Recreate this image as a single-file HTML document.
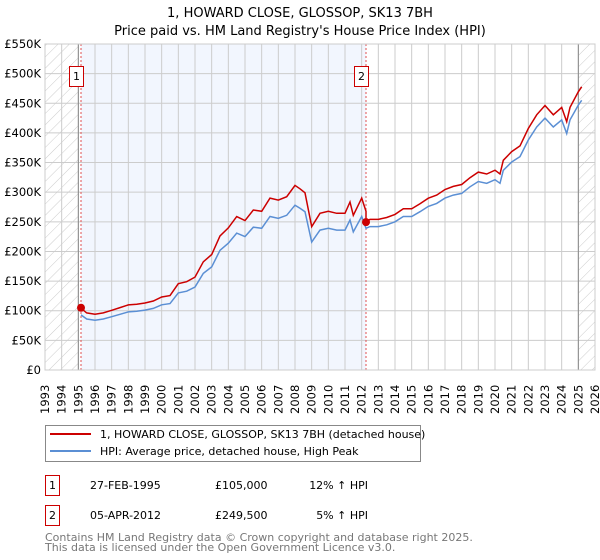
<!DOCTYPE html>
<html><head><meta charset="utf-8"><style>
body{margin:0;background:#fff;font-family:"DejaVu Sans","Liberation Sans",sans-serif;}
svg{display:block}
</style></head><body>
<svg id="chart" width="600" height="560" xmlns="http://www.w3.org/2000/svg" font-family="DejaVu Sans, Liberation Sans, sans-serif">
<defs><pattern id="hatch" width="8" height="8" patternUnits="userSpaceOnUse" patternTransform="rotate(45)"><line x1="0" y1="0" x2="0" y2="8" stroke="#ccc" stroke-width="1"/></pattern></defs>
<text x="300" y="17" text-anchor="middle" font-size="13">1, HOWARD CLOSE, GLOSSOP, SK13 7BH</text>
<text x="300" y="35" text-anchor="middle" font-size="13">Price paid vs. HM Land Registry's House Price Index (HPI)</text>
<g id="plot"></g>
<g id="legend">
<rect x="45.5" y="425.5" width="375" height="36" fill="#fff" stroke="#888"/>
<line x1="50" y1="434" x2="91" y2="434" stroke="#cc0000" stroke-width="2"/>
<text x="100" y="438" font-size="11">1, HOWARD CLOSE, GLOSSOP, SK13 7BH (detached house)</text>
<line x1="50" y1="451" x2="91" y2="451" stroke="#5b8fd4" stroke-width="2"/>
<text x="100" y="455" font-size="11">HPI: Average price, detached house, High Peak</text>
</g>
<g font-size="11">
<rect x="45.5" y="475.5" width="14" height="20" fill="#fff" stroke="#cc0000"/>
<text x="52.5" y="489" text-anchor="middle">1</text>
<text x="90" y="489">27-FEB-1995</text>
<text x="215" y="489">£105,000</text>
<text x="368" y="489" text-anchor="end">12% ↑ HPI</text>
<rect x="45.5" y="505.5" width="14" height="20" fill="#fff" stroke="#cc0000"/>
<text x="52.5" y="519" text-anchor="middle">2</text>
<text x="90" y="519">05-APR-2012</text>
<text x="215" y="519">£249,500</text>
<text x="368" y="519" text-anchor="end">5% ↑ HPI</text>
</g>
<text x="45" y="541" font-size="11" fill="#777">Contains HM Land Registry data © Crown copyright and database right 2025.</text>
<text x="45" y="551" font-size="11" fill="#777">This data is licensed under the Open Government Licence v3.0.</text>
</svg>
<script>
const years=[1993,1994,1995,1996,1997,1998,1999,2000,2001,2002,2003,2004,2005,2006,2007,2008,2009,2010,2011,2012,2013,2014,2015,2016,2017,2018,2019,2020,2021,2022,2023,2024,2025,2026];
const yTicks=[0,50,100,150,200,250,300,350,400,450,500,550];
const hpiDates=[1995.16,1995.5,1996,1996.5,1997,1997.5,1998,1998.5,1999,1999.5,2000,2000.5,2001,2001.5,2002,2002.5,2003,2003.5,2004,2004.5,2005,2005.5,2006,2006.5,2007,2007.5,2008,2008.3,2008.6,2009,2009.5,2010,2010.5,2011,2011.3,2011.5,2012,2012.26,2012.5,2013,2013.5,2014,2014.5,2015,2015.5,2016,2016.5,2017,2017.5,2018,2018.5,2019,2019.5,2020,2020.3,2020.5,2021,2021.5,2022,2022.5,2023,2023.5,2024,2024.3,2024.5,2025,2025.2];
const hpiValues=[93,86,84,86,90,94,98,99,101,104,110,112,130,133,140,163,174,202,214,231,225,241,239,259,256,261,278,273,267,216,236,239,236,236,253,233,259,239,242,242,245,250,259,259,267,276,281,290,295,298,309,318,315,321,315,337,351,360,388,410,425,410,422,399,422,447,455];
const sales=[[1995.16,105],[2012.26,249.5]];
const ratios=[1.12,1.05];
const L=45,R=595,T=44,B=370;
const xs=y=>L+(y-1993)/(2026-1993)*(R-L);
const ys=v=>B-v/550*(B-T);
const NS="http://www.w3.org/2000/svg";
const g=document.getElementById('plot');
function mk(t,a){const e=document.createElementNS(NS,t);for(const k in a)e.setAttribute(k,a[k]);g.appendChild(e);return e;}
let e;
e=mk('rect',{x:xs(sales[0][0]),y:T,width:xs(sales[1][0])-xs(sales[0][0]),height:B-T,fill:'#f2f6fe'});


e=mk('rect',{x:L,y:T,width:xs(1995)-L,height:B-T,fill:'url(#hatch)'});


e=mk('rect',{x:xs(2025),y:T,width:R-xs(2025),height:B-T,fill:'url(#hatch)'});


years.forEach(y=>{
 e=mk('line',{x1:xs(y),x2:xs(y),y1:T,y2:B,stroke:'#ccc'});
 
 
 e=mk('text',{transform:`translate(${xs(y)+4},${B+44}) rotate(-90)`,'font-size':'11.5'});
 e.textContent=y;
 
 
});
yTicks.forEach(v=>{
 e=mk('line',{x1:L,x2:R,y1:ys(v),y2:ys(v),stroke:'#ccc'});
 
 
 e=mk('text',{x:L-4,y:ys(v)+4,'text-anchor':'end','font-size':'11.5'});
 e.textContent=v===0?'£0':'£'+v+'K';
 
 
});
e=mk('line',{x1:xs(1995),x2:xs(1995),y1:T,y2:B,stroke:'#888'});


e=mk('line',{x1:xs(2025),x2:xs(2025),y1:T,y2:B,stroke:'#888'});


sales.forEach((s,i)=>{
 e=mk('line',{x1:xs(s[0]),x2:xs(s[0]),y1:T,y2:B,stroke:'#e05050','stroke-dasharray':'2,2'});
 
 
 e=mk('rect',{x:xs(s[0])-11.5,y:66.5,width:14,height:20,fill:'#fff',stroke:'#cc0000'});
 
 
 e=mk('text',{x:xs(s[0])-4.5,y:80,'text-anchor':'middle','font-size':'11'});
 e.textContent=i+1;
 
 
});
const hp=hpiDates.map((d,i)=>xs(d).toFixed(1)+','+ys(hpiValues[i]).toFixed(1)).join(' ');
e=mk('polyline',{points:hp,fill:'none',stroke:'#5b8fd4','stroke-width':1.5});


const rp=hpiDates.map((d,i)=>{const r=d<sales[1][0]?ratios[0]:ratios[1];return xs(d).toFixed(1)+','+ys(hpiValues[i]*r).toFixed(1);});
const k=hpiDates.findIndex(d=>d>=sales[1][0]);
rp.splice(k,0,xs(sales[1][0]).toFixed(1)+','+ys(hpiValues[k]*ratios[0]).toFixed(1));
e=mk('polyline',{points:rp.join(' '),fill:'none',stroke:'#cc0000','stroke-width':1.5});


sales.forEach(s=>{
 e=mk('circle',{cx:xs(s[0]),cy:ys(s[1]),r:4,fill:'#cc0000'});
 
 
});
e=mk('rect',{x:L,y:T,width:R-L,height:B-T,fill:'none',stroke:'#ccc'});


</script>
</body></html>
